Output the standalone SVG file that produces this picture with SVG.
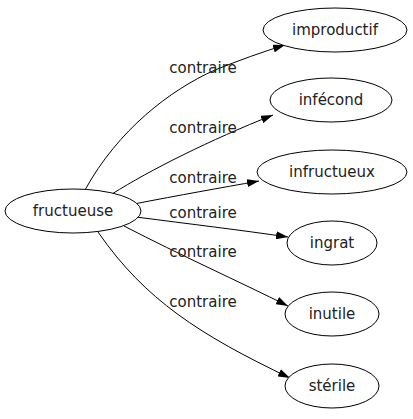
<svg xmlns="http://www.w3.org/2000/svg" width="413" height="419" viewBox="0 0 413 419">
<style>
.n ellipse{fill:#fff;stroke:#000;stroke-width:1}
text{font-family:"DejaVu Sans",sans-serif;font-size:15px;fill:#222;text-anchor:middle}
.e path{fill:none;stroke:#000;stroke-width:1}
</style>
<defs>
<marker id="a" viewBox="0 0 12 8" refX="12" refY="4" markerWidth="12" markerHeight="8" markerUnits="userSpaceOnUse" orient="auto">
<path d="M0,0 L12,4 L0,8 Z" fill="#000"/>
</marker>
</defs>
<rect width="413" height="419" fill="#fff"/>
<g class="e" id="edges">
<path d="M85,190 C118,130 170,90 215,70 C240,60 262,52 285,45" marker-end="url(#a)"/>
<path d="M112,194 C150,170 210,140 273,115" marker-end="url(#a)"/>
<path d="M134,204 C180,195 220,188 259,181" marker-end="url(#a)"/>
<path d="M136,217 C190,224 240,230 288,237" marker-end="url(#a)"/>
<path d="M124,226 C180,255 240,282 288,306" marker-end="url(#a)"/>
<path d="M98,232 C145,300 200,335 290,378" marker-end="url(#a)"/>
</g>
<g class="lbl">
<text x="203" y="73">contraire</text>
<text x="203" y="133">contraire</text>
<text x="203" y="183">contraire</text>
<text x="203" y="218">contraire</text>
<text x="203" y="257">contraire</text>
<text x="203" y="307">contraire</text>
</g>
<g class="n" id="fructueuse"><ellipse cx="73" cy="211" rx="68" ry="22"/><text x="73" y="216">fructueuse</text></g>
<g class="n" id="improductif"><ellipse cx="335" cy="30" rx="72" ry="22"/><text x="335" y="35">improductif</text></g>
<g class="n" id="infecond"><ellipse cx="331" cy="100" rx="61" ry="22"/><text x="331" y="105">infécond</text></g>
<g class="n" id="infructueux"><ellipse cx="332" cy="172" rx="75" ry="22"/><text x="332" y="177">infructueux</text></g>
<g class="n" id="ingrat"><ellipse cx="332" cy="243" rx="45" ry="22"/><text x="332" y="248">ingrat</text></g>
<g class="n" id="inutile"><ellipse cx="332" cy="314" rx="47" ry="22"/><text x="332" y="319">inutile</text></g>
<g class="n" id="sterile"><ellipse cx="332" cy="386" rx="47" ry="22"/><text x="332" y="391">stérile</text></g>
</svg>
